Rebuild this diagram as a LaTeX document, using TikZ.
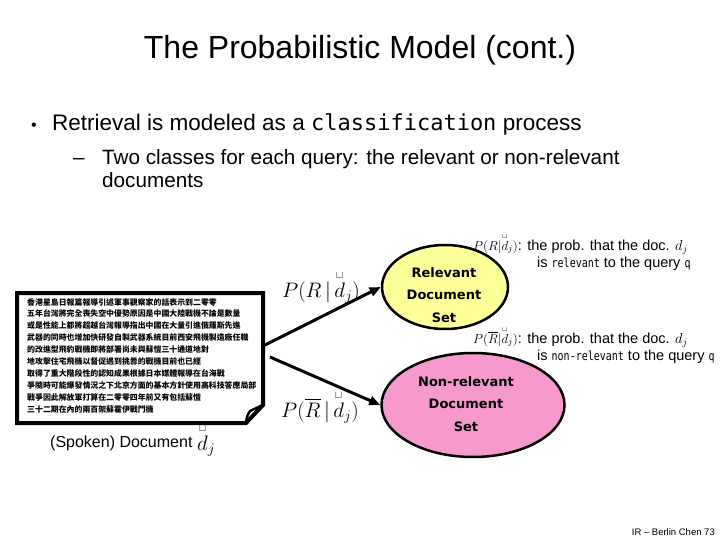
\RequirePackage{fix-cm}
\documentclass[tikz,border=0pt]{standalone}
\usepackage{amsmath}
\usepackage{fontspec}
\setmainfont{Liberation Sans}
\newfontfamily\pixfont{DejaVu Sans Mono}
\newfontfamily\pixn{DejaVu Sans Mono}[FakeStretch=0.8]
\newfontfamily\chic{DejaVu Sans}
\newfontfamily\cjk{Noto Sans CJK TC}
\usetikzlibrary{shapes.geometric,arrows.meta}
\definecolor{relyellow}{RGB}{255,255,153}
\definecolor{nonpink}{RGB}{246,154,205}
\newcommand\dvec{\overset{\scriptscriptstyle\sqcup}{d}}
\tikzset{
  conn/.style={line width=3pt,-{Triangle[length=11pt,width=9pt]}},
  setnode/.style={ellipse,draw,line width=2.5pt,inner sep=0pt},
  settext/.style={align=center,inner sep=0pt,font=\chic\bfseries\fontsize{13}{22.5}\selectfont},
  txt/.style={inner sep=0pt,anchor=base west},
}
\begin{document}
\begin{tikzpicture}[x=1pt,y=-1pt]
\useasboundingbox[fill=white] (0,0) rectangle (720,540);

% title
\node[font=\fontsize{32}{38}\selectfont] (title) at (360,50) {The Probabilistic Model (cont.)};

% bullets
\node[txt,anchor=base,font=\fontsize{16}{20}\selectfont] (dot) at (34,131) {\textbullet};
\node[txt,font=\fontsize{22.5}{26}\selectfont] (b1) at (52,131)
  {Retrieval is modeled as a {\pixfont\fontsize{22}{24}\selectfont classification} process};
\node[txt,font=\fontsize{20.7}{23.5}\selectfont] (dash) at (73,165) {–};
\node[txt,font=\fontsize{20.7}{23.5}\selectfont] (b2) at (102,165)
  {Two classes for each query: the relevant or non-relevant};
\node[txt,font=\fontsize{20.7}{23.5}\selectfont] (b3) at (102,188) {documents};

% document
\draw[line width=4pt,fill=white,line join=miter] (17,293) -- (263,293) -- (263,405) -- (246,423) -- (17,423) -- cycle;
\draw[line width=2.5pt,line join=round] (246,423) .. controls (247,416) .. (250,411) -- (263,405);
\node[anchor=north west,inner sep=0pt,align=left,font=\cjk\bfseries\fontsize{7.9}{11.9}\selectfont] (zh) at (27,298)
 {香港星島日報篇報導引述軍事觀察家的話表示到二零零\\
  五年台灣將完全喪失空中優勢原因是中國大陸戰機不論是數量\\
  或是性能上都將超越台灣報導指出中國在大量引進俄羅斯先進\\
  武器的同時也增加快研發自製武器系統目前西安飛機製造廠任職\\
  的改進型飛豹戰機即將部署尚未與蘇愷三十通道地對\\
  地攻擊住宅飛機以督促遇到挑釁的戰機目前也已經\\
  取得了重大階段性的認知成果根據日本媒體報導在台海戰\\
  爭隨時可能爆發情況之下北京方面的基本方針使用高科技答應局部\\
  戰爭因此解放軍打算在二零零四年前又有包括蘇愷\\
  三十二期在內的兩百架蘇霍伊戰鬥機};
\node[txt,font=\fontsize{16}{19}\selectfont] (spk) at (50,447) {(Spoken) Document};
\node[txt,font=\fontsize{21}{25}\selectfont] (dj) at (197,450) {$\dvec_j$};

\coordinate (dA) at (263,346);
\coordinate (dB) at (270,357);

% sets
\node[setnode,fill=relyellow,minimum width=126pt,minimum height=84pt] (rel) at (445,287) {};
\node[settext] (relT) at (444,295) {Relevant\\Document\\Set};
\node[setnode,fill=nonpink,minimum width=183pt,minimum height=104pt] (nonrel) at (473,405) {};
\node[settext] (nonrelT) at (466,404) {Non-relevant\\Document\\Set};

% connectors
\draw[conn] (dA) -- (rel.west);
\draw[conn] (dB) -- (nonrel.west);

% connector labels
\node[txt,font=\fontsize{21}{25}\selectfont] (pr) at (282,297) {$P(R\,|\,\dvec_j)$};
\node[txt,font=\fontsize{21}{25}\selectfont] (pnr) at (281,417) {$P(\overline{R}\,|\,\dvec_j)$};

% annotations
\node[txt] (a1) at (473,250)
  {\fontsize{13}{15}\selectfont$P(R|\dvec_j)$\fontsize{14.5}{17}\selectfont: the prob. that the doc. $d_j$};
\node[txt,font=\fontsize{14.5}{17}\selectfont] (a2) at (537,267)
  {is {\pixn\fontsize{12.5}{15}\selectfont relevant} to the query {\pixn\fontsize{12.5}{15}\selectfont q}};
\node[txt] (a3) at (473,343)
  {\fontsize{13}{15}\selectfont$P(\overline{R}|\dvec_j)$\fontsize{14.5}{17}\selectfont: the prob. that the doc. $d_j$};
\node[txt,font=\fontsize{14.5}{17}\selectfont] (a4) at (537,360)
  {is {\pixn\fontsize{12.5}{15}\selectfont non-relevant} to the query {\pixn\fontsize{12.5}{15}\selectfont q}};

% footer
\node[txt,anchor=base east,font=\fontsize{9.5}{11}\selectfont] (ft) at (715,535) {IR – Berlin Chen 73};
\end{tikzpicture}
\end{document}
